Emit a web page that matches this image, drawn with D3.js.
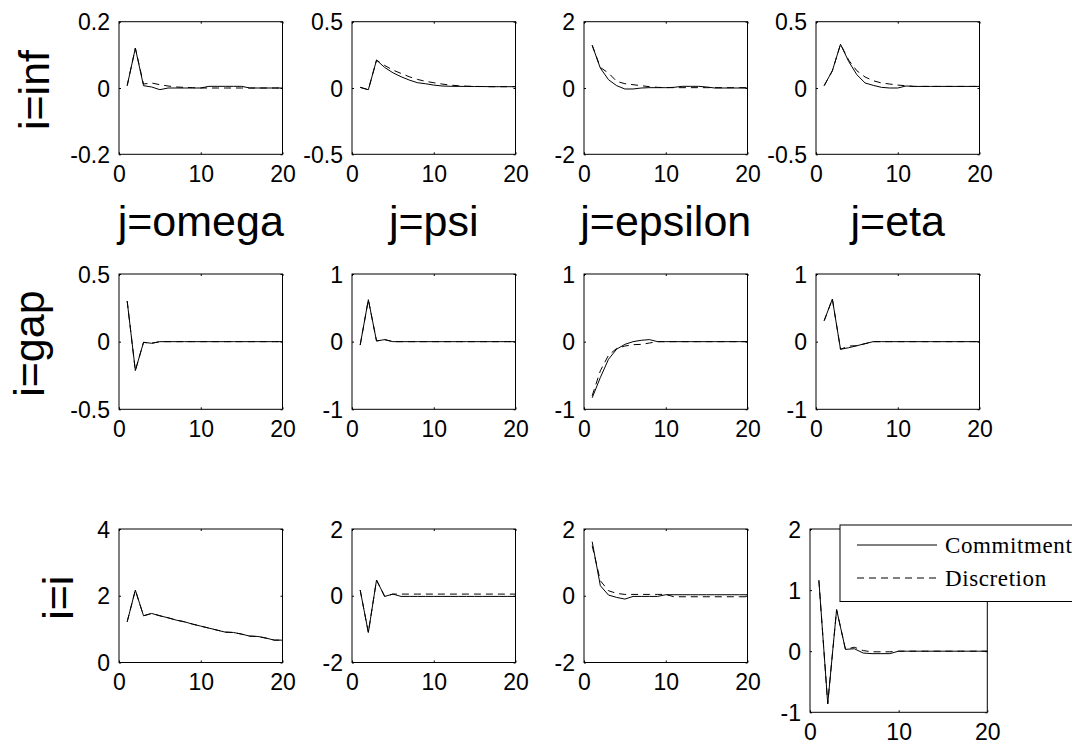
<!DOCTYPE html>
<html><head><meta charset="utf-8">
<script src="https://cdn.jsdelivr.net/npm/d3@7"></script>
<style>body{margin:0;background:#fff}svg{display:block}</style>
</head><body>
<script>
// ---------- data ----------
const periods = d3.range(1, 21);
const rowLabels = ["i=inf", "i=gap", "i=i"];
const colLabels = ["j=omega", "j=psi", "j=epsilon", "j=eta"];
const xTicks = [0, 10, 20];
const legendLabels = ["Commitment", "Discretion"];

// y-axis domains and tick labels, row by row
const yDomainsInf = [[-0.2, 0.2], [-0.5, 0.5], [-2, 2], [-0.5, 0.5]];
const yDomainsGap = [[-0.5, 0.5], [-1, 1], [-1, 1], [-1, 1]];
const yDomainsI   = [[0, 4], [-2, 2], [-2, 2], [-1, 2]];
const yTicksInf = [[-0.2, 0, 0.2], [-0.5, 0, 0.5], [-2, 0, 2], [-0.5, 0, 0.5]];
const yTicksGap = [[-0.5, 0, 0.5], [-1, 0, 1], [-1, 0, 1], [-1, 0, 1]];
const yTicksI   = [[0, 2, 4], [-2, 0, 2], [-2, 0, 2], [-1, 0, 1, 2]];

// i = inf
const infOmegaCommit = [0.007,0.12,0.007,0.003,-0.005,0,0,0,0,0,0.005,0.005,0.005,0.005,0.005,0,0,0,0,0];
const infOmegaDisc   = [0.007,0.12,0.012,0.015,0.01,0.006,0.003,0.002,0.001,0,0,0,0,0,0,0,0,0,0,0];
const infPsiCommit   = [0.005,-0.013,0.21,0.155,0.115,0.085,0.06,0.04,0.032,0.022,0.015,0.013,0.012,0.012,0.011,0.011,0.01,0.01,0.01,0.01];
const infPsiDisc     = [0.005,-0.013,0.21,0.17,0.135,0.11,0.085,0.065,0.05,0.04,0.03,0.022,0.017,0.014,0.012,0.011,0.01,0.01,0.01,0.01];
const infEpsCommit   = [1.29,0.6,0.25,0.07,-0.03,-0.03,0,0.01,0.01,0.01,0.02,0.05,0.05,0.05,0.03,0,0,0,0,0];
const infEpsDisc     = [1.29,0.62,0.45,0.2,0.13,0.1,0.07,0.04,0.02,0.01,0.01,0.01,0.01,0.01,0.01,0.01,0.01,0.01,0.01,0.01];
const infEtaCommit   = [0.018,0.13,0.33,0.2,0.1,0.038,0.02,0.005,0,0,0.015,0.012,0.012,0.012,0.012,0.012,0.012,0.012,0.012,0.012];
const infEtaDisc     = [0.018,0.13,0.33,0.21,0.13,0.083,0.055,0.038,0.03,0.022,0.017,0.012,0.012,0.012,0.012,0.012,0.012,0.012,0.012,0.012];
// i = gap
const gapOmegaCommit = [0.3,-0.214,-0.005,-0.012,0,0,0,0,0,0,0,0,0,0,0,0,0,0,0,0];
const gapOmegaDisc   = [0.3,-0.214,-0.005,-0.012,0,0,0,0,0,0,0,0,0,0,0,0,0,0,0,0];
const gapPsiCommit   = [-0.05,0.62,0.01,0.03,0,0,0,0,0,0,0,0,0,0,0,0,0,0,0,0];
const gapPsiDisc     = [-0.05,0.62,0.01,0.03,0,0,0,0,0,0,0,0,0,0,0,0,0,0,0,0];
const gapEpsCommit   = [-0.83,-0.53,-0.26,-0.11,-0.04,0,0.02,0.03,0,0,0,0,0,0,0,0,0,0,0,0];
const gapEpsDisc     = [-0.8,-0.43,-0.2,-0.1,-0.065,-0.045,-0.04,-0.02,0,0,0,0,0,0,0,0,0,0,0,0];
const gapEtaCommit   = [0.31,0.63,-0.113,-0.09,-0.06,-0.03,0,0,0,0,0,0,0,0,0,0,0,0,0,0];
const gapEtaDisc     = [0.31,0.63,-0.113,-0.065,-0.06,-0.03,0,0,0,0,0,0,0,0,0,0,0,0,0,0];
// i = i
const iOmegaCommit   = [1.22,2.17,1.4,1.47,1.4,1.34,1.27,1.22,1.15,1.09,1.03,0.97,0.91,0.9,0.85,0.79,0.78,0.73,0.67,0.67];
const iOmegaDisc     = [1.22,2.17,1.4,1.47,1.4,1.34,1.27,1.22,1.15,1.09,1.03,0.97,0.91,0.9,0.85,0.79,0.78,0.73,0.67,0.67];
const iPsiCommit     = [0.17,-1.1,0.47,-0.02,0.05,-0.02,-0.02,-0.02,-0.02,-0.02,-0.02,-0.02,-0.02,-0.02,-0.02,-0.02,-0.02,-0.02,-0.02,-0.02];
const iPsiDisc       = [0.17,-1.1,0.47,-0.02,0.05,0.05,0.05,0.05,0.05,0.05,0.05,0.05,0.05,0.05,0.05,0.05,0.05,0.05,0.05,0.05];
const iEpsCommit     = [1.62,0.3,0.02,-0.05,-0.1,-0.02,-0.02,-0.02,-0.02,0.03,0.03,0.03,0.03,0.03,0.03,0.03,0.03,0.03,0.03,0.03];
const iEpsDisc       = [1.5,0.45,0.15,0.07,0.04,0.04,0.04,0.04,0.04,0.04,-0.03,-0.03,-0.03,-0.03,-0.03,-0.03,-0.03,-0.03,-0.03,-0.03];
const iEtaCommit     = [1.16,-0.86,0.68,0.03,0.04,-0.03,-0.04,-0.04,-0.04,0,0,0,0,0,0,0,0,0,0,0];
const iEtaDisc       = [1.16,-0.86,0.68,0.03,0.065,0.01,-0.01,-0.01,-0.01,0,0,0,0,0,0,0,0,0,0,0];

const commitRows = [
  [infOmegaCommit, infPsiCommit, infEpsCommit, infEtaCommit],
  [gapOmegaCommit, gapPsiCommit, gapEpsCommit, gapEtaCommit],
  [iOmegaCommit, iPsiCommit, iEpsCommit, iEtaCommit]];
const discRows = [
  [infOmegaDisc, infPsiDisc, infEpsDisc, infEtaDisc],
  [gapOmegaDisc, gapPsiDisc, gapEpsDisc, gapEtaDisc],
  [iOmegaDisc, iPsiDisc, iEpsDisc, iEtaDisc]];
const yDomainRows = [yDomainsInf, yDomainsGap, yDomainsI];
const yTickRows = [yTicksInf, yTicksGap, yTicksI];

// ---------- layout ----------
const W = 1072, H = 747;
const colLeft = [119, 352, 584, 816];
const panelW = 163.5;
const rowTop = [21.7, 274, 529];
const rowH = [132.6, 135.3, 133.5];
const SANS = "'Liberation Sans', Arial, Helvetica, sans-serif";
const SERIF = "'Liberation Serif', 'Times New Roman', serif";
const fmt = d => String(d);   // plain hyphen-minus like the original

const svg = d3.select("body").append("svg").attr("width", W).attr("height", H)
  .style("background", "#fff");

function panelBox(r, c) {
  if (r === 2 && c === 3) return {x: 810, y: 529, w: 177.3, h: 183.3};
  return {x: colLeft[c], y: rowTop[r], w: panelW, h: rowH[r]};
}

for (let r = 0; r < 3; r++) {
  for (let c = 0; c < 4; c++) {
    const b = panelBox(r, c);
    const x = d3.scaleLinear().domain([0, 20]).range([b.x, b.x + b.w]);
    const y = d3.scaleLinear().domain(yDomainRows[r][c]).range([b.y + b.h, b.y]);
    const g = svg.append("g");

    const line = d3.line().x((d, i) => x(periods[i])).y(d => y(d));
    g.append("path").datum(discRows[r][c]).attr("d", line)
      .attr("fill", "none").attr("stroke", "#000").attr("stroke-width", 1)
      .attr("stroke-dasharray", "7,5");
    g.append("path").datum(commitRows[r][c]).attr("d", line)
      .attr("fill", "none").attr("stroke", "#000").attr("stroke-width", 1);

    // axes (ticks inward)
    const ax = g.append("g").attr("transform", `translate(0,${b.y + b.h})`)
      .call(d3.axisBottom(x).tickValues(xTicks).tickSizeInner(-2).tickSizeOuter(0).tickPadding(11).tickFormat(fmt));
    const axTop = g.append("g").attr("transform", `translate(0,${b.y})`)
      .call(d3.axisTop(x).tickValues(xTicks).tickSizeInner(-2).tickSizeOuter(0).tickFormat(""));
    const ay = g.append("g").attr("transform", `translate(${b.x},0)`)
      .call(d3.axisLeft(y).tickValues(yTickRows[r][c]).tickSizeInner(-2).tickSizeOuter(0).tickPadding(9).tickFormat(fmt));
    const ayR = g.append("g").attr("transform", `translate(${b.x + b.w},0)`)
      .call(d3.axisRight(y).tickValues(yTickRows[r][c]).tickSizeInner(-2).tickSizeOuter(0).tickFormat(""));
    [ax, axTop, ay, ayR].forEach(a => {
      a.select(".domain").remove();
      a.selectAll("line").attr("stroke", "#000");
      a.selectAll("text").attr("font-family", SANS).attr("font-size", 23).attr("fill", "#000");
    });
    ax.selectAll("text").attr("dy", "0.71em");
    ay.selectAll("text").attr("dy", "0.35em");

    g.append("rect").attr("x", b.x).attr("y", b.y).attr("width", b.w).attr("height", b.h)
      .attr("fill", "none").attr("stroke", "#000").attr("stroke-width", 1);
  }
}

// column titles
colLabels.forEach((t, c) => {
  svg.append("text").attr("x", colLeft[c] + panelW / 2).attr("y", 236)
    .attr("text-anchor", "middle").attr("font-family", SANS).attr("font-size", 43)
    .attr("fill", "#000").text(t);
});

// row labels
const rowLabelX = [49, 44, 73];
rowLabels.forEach((t, r) => {
  const cy = rowTop[r] + rowH[r] / 2 + 2;
  svg.append("text").attr("transform", `translate(${rowLabelX[r]},${cy}) rotate(-90)`)
    .attr("text-anchor", "middle").attr("font-family", SANS).attr("font-size", 43)
    .attr("fill", "#000").text(t);
});

// legend
const lg = svg.append("g");
lg.append("rect").attr("x", 840).attr("y", 525).attr("width", 260).attr("height", 76.5)
  .attr("fill", "#fff").attr("stroke", "#000").attr("stroke-width", 1);
const legendY = [545, 578];
legendLabels.forEach((t, i) => {
  lg.append("line").attr("x1", 857).attr("x2", 937).attr("y1", legendY[i]).attr("y2", legendY[i])
    .attr("stroke", "#000").attr("stroke-width", 1)
    .attr("stroke-dasharray", i === 1 ? "7,5" : null);
  lg.append("text").attr("x", 945).attr("y", legendY[i] + 8).attr("font-family", SERIF)
    .attr("font-size", 23).attr("letter-spacing", 0.6).attr("fill", "#000").text(t);
});
</script>
</body></html>
